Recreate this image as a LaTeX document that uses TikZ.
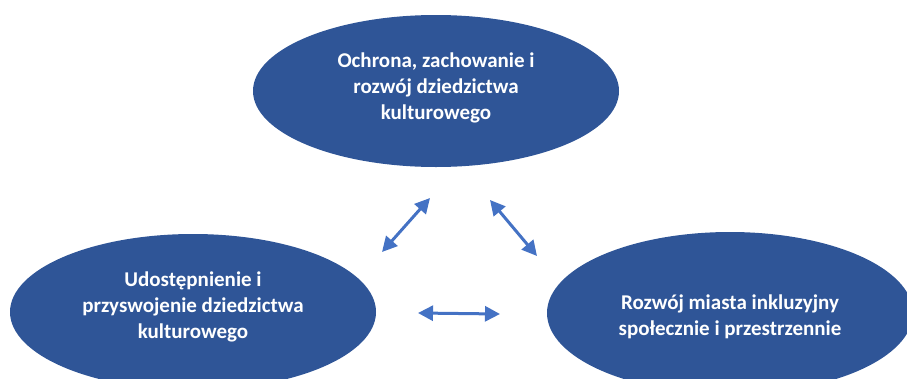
\documentclass[tikz,border=0pt]{standalone}
\usepackage{fontspec}
\setmainfont{Carlito}
\usetikzlibrary{shapes.geometric,arrows.meta}
\definecolor{ellblue}{HTML}{2F5597}
\definecolor{arrblue}{HTML}{4472C4}
\tikzset{
  oval/.style={ellipse, fill=ellblue, draw=none, inner sep=0pt,
    minimum width=366pt},
  ovaltext/.style={text=white, align=center, inner sep=0pt,
    font=\fontsize{21}{26}\selectfont\bfseries},
  biarrow/.style={draw=arrblue, line width=3pt,
    {Triangle[length=15pt,width=15pt]}-{Triangle[length=15pt,width=15pt]}}
}
\begin{document}
\begin{tikzpicture}[x=1pt,y=-1pt]
\useasboundingbox (0,0) rectangle (907,378);
\node[oval, minimum height=152pt] (top) at (436,91) {};
\node[oval, minimum height=156pt] (left) at (193,312) {};
\node[oval, minimum height=162pt] (right) at (730,313) {};
\node[ovaltext] (topT) at (436,88) {Ochrona, zachowanie i\\rozwój dziedzictwa\\kulturowego};
\node[ovaltext] (leftT) at (193,307) {Udostępnienie i\\przyswojenie dziedzictwa\\kulturowego};
\node[ovaltext] (rightT) at (730,317) {Rozwój miasta inkluzyjny\\społecznie i przestrzennie};
\coordinate (a1) at (382,252);
\coordinate (a2) at (430,198);
\coordinate (b1) at (490,200);
\coordinate (b2) at (537,256);
\coordinate (c1) at (418,313);
\coordinate (c2) at (500,314);
\draw[biarrow] (a1) -- (a2);
\draw[biarrow] (b1) -- (b2);
\draw[biarrow] (c1) -- (c2);
\end{tikzpicture}
\end{document}
